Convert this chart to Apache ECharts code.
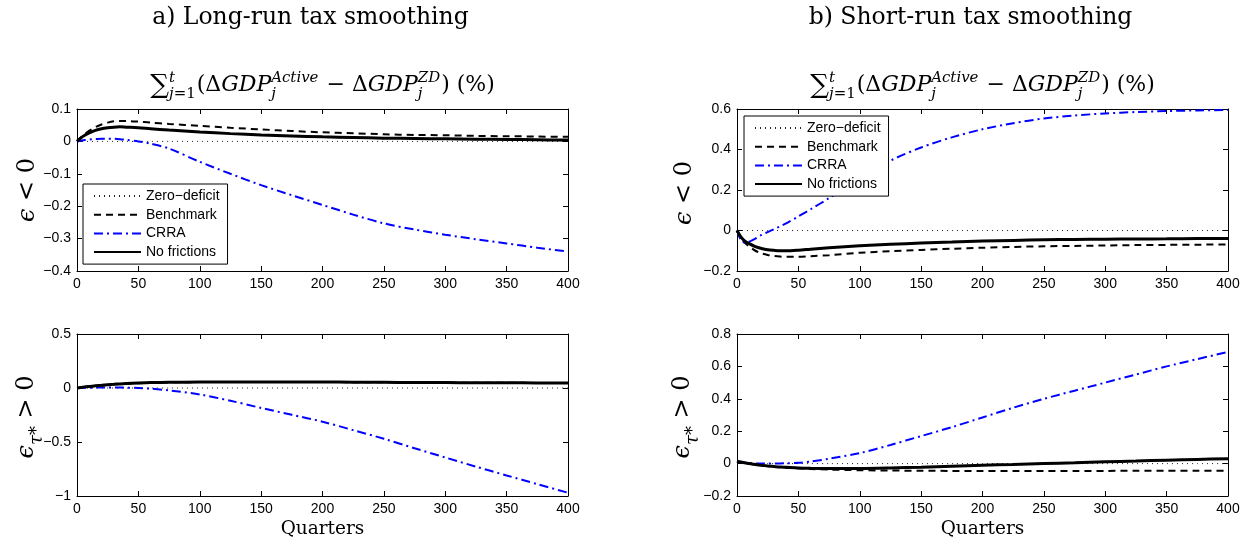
<!DOCTYPE html>
<html><head><meta charset="utf-8">
<script src="https://cdn.jsdelivr.net/npm/echarts@6/dist/echarts.min.js"></script>
<style>html,body{margin:0;padding:0;background:#fff}#c{width:1248px;height:542px}</style>
</head><body><div id="c"></div>
<script>
// ---------- DATA ----------
const quarters = [0, 3, 6, 10, 15, 20, 25, 30, 35, 40, 50, 60, 75, 100, 125, 150, 175, 200, 225, 250, 275, 300, 325, 350, 375, 400];
const seriesNames = ['Zero\u2212deficit', 'Benchmark', 'CRRA', 'No frictions'];

// a) Long-run tax smoothing, epsilon < 0
const zeroA1 = [0,0,0,0,0,0,0,0,0,0,0,0,0,0,0,0,0,0,0,0,0,0,0,0,0,0];
const benchA1 = [0, 0.012, 0.022, 0.033, 0.044, 0.052, 0.058, 0.062, 0.063, 0.063, 0.061, 0.058, 0.054, 0.048, 0.042, 0.037, 0.032, 0.028, 0.025, 0.022, 0.020, 0.019, 0.017, 0.016, 0.015, 0.014];
const crraA1 = [0, 0.002, 0.004, 0.006, 0.007, 0.008, 0.008, 0.008, 0.007, 0.005, 0.0, -0.007, -0.022, -0.063, -0.100, -0.135, -0.166, -0.196, -0.226, -0.253, -0.272, -0.288, -0.302, -0.315, -0.328, -0.340];
const nofrA1 = [0, 0.010, 0.018, 0.026, 0.034, 0.039, 0.042, 0.044, 0.045, 0.044, 0.042, 0.039, 0.035, 0.029, 0.024, 0.020, 0.017, 0.014, 0.012, 0.010, 0.009, 0.008, 0.007, 0.006, 0.005, 0.004];

// a) Long-run tax smoothing, epsilon_tau* > 0
const zeroA2 = [0,0,0,0,0,0,0,0,0,0,0,0,0,0,0,0,0,0,0,0,0,0,0,0,0,0];
const benchA2 = [0, 0.004, 0.008, 0.013, 0.019, 0.024, 0.029, 0.033, 0.037, 0.040, 0.045, 0.049, 0.052, 0.055, 0.056, 0.056, 0.056, 0.055, 0.054, 0.053, 0.052, 0.050, 0.049, 0.048, 0.047, 0.046];
const crraA2 = [0, 0.001, 0.002, 0.003, 0.004, 0.005, 0.005, 0.005, 0.004, 0.003, 0.0, -0.006, -0.022, -0.060, -0.118, -0.185, -0.248, -0.312, -0.390, -0.470, -0.558, -0.643, -0.728, -0.810, -0.890, -0.970];
const nofrA2 = [0, 0.004, 0.009, 0.014, 0.020, 0.025, 0.030, 0.034, 0.038, 0.041, 0.046, 0.050, 0.053, 0.055, 0.056, 0.056, 0.056, 0.055, 0.054, 0.053, 0.051, 0.050, 0.049, 0.048, 0.047, 0.046];

// b) Short-run tax smoothing, epsilon < 0
const zeroB1 = [0,0,0,0,0,0,0,0,0,0,0,0,0,0,0,0,0,0,0,0,0,0,0,0,0,0];
const benchB1 = [0, -0.035, -0.058, -0.080, -0.100, -0.113, -0.121, -0.126, -0.129, -0.130, -0.130, -0.127, -0.122, -0.110, -0.102, -0.096, -0.090, -0.085, -0.081, -0.078, -0.076, -0.074, -0.072, -0.071, -0.070, -0.069];
const crraB1 = [0, -0.045, -0.060, -0.055, -0.040, -0.022, -0.008, 0.006, 0.020, 0.035, 0.070, 0.105, 0.160, 0.260, 0.345, 0.410, 0.460, 0.500, 0.530, 0.553, 0.568, 0.578, 0.585, 0.590, 0.593, 0.595];
const nofrB1 = [0, -0.030, -0.050, -0.065, -0.080, -0.089, -0.095, -0.098, -0.100, -0.100, -0.097, -0.092, -0.085, -0.075, -0.068, -0.062, -0.057, -0.052, -0.049, -0.046, -0.044, -0.043, -0.042, -0.041, -0.040, -0.040];

// b) Short-run tax smoothing, epsilon_tau* > 0
const zeroB2 = [0,0,0,0,0,0,0,0,0,0,0,0,0,0,0,0,0,0,0,0,0,0,0,0,0,0];
const benchB2 = [0.015, 0.010, 0.005, 0.0, -0.006, -0.011, -0.015, -0.019, -0.022, -0.025, -0.029, -0.033, -0.037, -0.041, -0.043, -0.044, -0.045, -0.045, -0.045, -0.045, -0.045, -0.045, -0.044, -0.044, -0.044, -0.044];
const crraB2 = [0.012, 0.009, 0.006, 0.003, 0.001, 0.0, 0.0, 0.0, 0.001, 0.002, 0.005, 0.013, 0.030, 0.065, 0.115, 0.170, 0.225, 0.285, 0.345, 0.400, 0.450, 0.500, 0.550, 0.600, 0.645, 0.690];
const nofrB2 = [0.015, 0.010, 0.005, 0.0, -0.006, -0.011, -0.015, -0.018, -0.021, -0.023, -0.027, -0.029, -0.030, -0.030, -0.027, -0.022, -0.016, -0.010, -0.005, 0.0, 0.005, 0.011, 0.016, 0.021, 0.026, 0.030];

const yRanges = [
  {min: -0.4, max: 0.1, interval: 0.1},
  {min: -1, max: 0.5, interval: 0.5},
  {min: -0.2, max: 0.6, interval: 0.2},
  {min: -0.2, max: 0.8, interval: 0.2}
];
const panels = [
  [zeroA1, benchA1, crraA1, nofrA1],
  [zeroA2, benchA2, crraA2, nofrA2],
  [zeroB1, benchB1, crraB1, nofrB1],
  [zeroB2, benchB2, crraB2, nofrB2]
];

// ---------- LAYOUT ----------
const grids = [
  {left: 77, top: 109, width: 491, height: 162},
  {left: 77, top: 334, width: 491, height: 162},
  {left: 737, top: 109, width: 491, height: 162},
  {left: 737, top: 334, width: 491, height: 162}
];
const lineStyles = [
  {color: '#222', width: 1, type: [1, 4]},
  {color: '#000', width: 2, type: [7, 5]},
  {color: '#0000ff', width: 2, type: [9, 4, 2, 4]},
  {color: '#000', width: 3, type: 'solid'}
];
const tickFont = {fontFamily: '"Liberation Sans", Arial, sans-serif', fontSize: 14, color: '#000'};
const fmt = v => { const r = parseFloat(v.toFixed(3)); return String(r).replace('-', '\u2212'); };

const xAxis = [], yAxis = [], series = [];
grids.forEach((g, gi) => {
  xAxis.push({gridIndex: gi, type: 'value', min: 0, max: 400, interval: 50, position: 'bottom',
    axisLine: {onZero: false, lineStyle: {color: '#000', width: 1}},
    axisTick: {inside: true, length: 5, lineStyle: {color: '#000'}},
    axisLabel: Object.assign({margin: 6, formatter: fmt}, tickFont), splitLine: {show: false}});
  xAxis.push({gridIndex: gi, type: 'value', min: 0, max: 400, interval: 50, position: 'top',
    axisLine: {onZero: false, lineStyle: {color: '#000', width: 1}},
    axisTick: {inside: true, length: 5, lineStyle: {color: '#000'}},
    axisLabel: {show: false}, splitLine: {show: false}});
  const yr = yRanges[gi];
  yAxis.push({gridIndex: gi, type: 'value', min: yr.min, max: yr.max, interval: yr.interval, position: 'left',
    axisLine: {show: true, onZero: false, lineStyle: {color: '#000', width: 1}},
    axisTick: {show: true, inside: true, length: 5, lineStyle: {color: '#000'}},
    axisLabel: Object.assign({margin: 6, formatter: fmt}, tickFont), splitLine: {show: false}});
  yAxis.push({gridIndex: gi, type: 'value', min: yr.min, max: yr.max, interval: yr.interval, position: 'right',
    axisLine: {show: true, onZero: false, lineStyle: {color: '#000', width: 1}},
    axisTick: {show: true, inside: true, length: 5, lineStyle: {color: '#000'}},
    axisLabel: {show: false}, splitLine: {show: false}});
  panels[gi].forEach((arr, si) => {
    series.push({type: 'line', name: seriesNames[si], xAxisIndex: 2 * gi, yAxisIndex: 2 * gi,
      data: quarters.map((q, i) => [q, arr[i]]), symbol: 'none', smooth: 0.3,
      lineStyle: lineStyles[si], itemStyle: {color: lineStyles[si].color}, clip: true});
  });
});

const legendCommon = {orient: 'vertical', itemWidth: 47, itemHeight: 12, itemGap: 4.7,
  borderColor: '#000', borderWidth: 1, backgroundColor: '#fff', padding: [5, 8, 5, 10],
  itemStyle: {opacity: 0, borderWidth: 0},
  selectedMode: false, data: seriesNames, textStyle: {fontFamily: '"Liberation Sans", Arial, sans-serif', fontSize: 14, color: '#000'}};
const legend = [
  Object.assign({left: 83, top: 184}, legendCommon),
  Object.assign({left: 744, top: 116}, legendCommon)
];

// ---------- MATH TEXT (graphic) ----------
const SERIF = '"DejaVu Serif", serif';
const mctx = document.createElement('canvas').getContext('2d');
function tw(t, s, it) { mctx.font = (it ? 'italic ' : '') + s + 'px ' + SERIF; return mctx.measureText(t).width; }
function mk(t, x, base, s, it) {
  return {type: 'text', x: x, y: base - 0.346 * s, silent: true,
    style: {text: t, fontSize: s, fontFamily: SERIF, fontStyle: it ? 'italic' : 'normal', fill: '#000', align: 'left', verticalAlign: 'middle'}};
}
function buildMath(items, B) {
  let x = 0; const els = [];
  items.forEach(it => {
    if (it.stack) {
      const ss = 0.68 * B;
      let xs = x;
      it.sup.forEach(p => { els.push(mk(p.t, xs, -0.45 * B, ss, p.it)); xs += tw(p.t, ss, p.it); });
      const wsup = xs - x; xs = x;
      it.sub.forEach(p => { els.push(mk(p.t, xs, 0.3 * B, ss, p.it)); xs += tw(p.t, ss, p.it); });
      const wsub = xs - x;
      x += Math.max(wsup, wsub) + 1;
    } else {
      const s = (it.s || 1) * B;
      els.push(mk(it.t, x, (it.dy || 0) * B, s, it.it));
      x += tw(it.t, s, it.it);
    }
  });
  return {els, width: x};
}
const formulaItems = [
  {t: '\u2211', s: 1.2, dy: 0.1},
  {stack: true, sup: [{t: 't', it: true}], sub: [{t: 'j', it: true}, {t: '=1'}]},
  {t: '(\u0394'}, {t: 'GDP', it: true},
  {stack: true, sup: [{t: 'Active', it: true}], sub: [{t: 'j', it: true}]},
  {t: ' \u2212 \u0394'}, {t: 'GDP', it: true},
  {stack: true, sup: [{t: 'ZD', it: true}], sub: [{t: 'j', it: true}]},
  {t: ') (%)'}
];
const ylab1 = [{t: '\u03F5', it: true}, {t: ' < 0'}];
const ylab2 = [{t: '\u03F5', it: true}, {t: '\u03C4', it: true, s: 0.75, dy: 0.32}, {t: '*', s: 0.75, dy: 0.32}, {t: ' > 0'}];

const graphics = [];
function hMath(items, B, cx, base) {
  const m = buildMath(items, B);
  graphics.push({type: 'group', x: cx - m.width / 2, y: base, children: m.els});
}
function vMath(items, B, cx, cy) {
  const m = buildMath(items, B);
  m.els.forEach(e => { e.x -= m.width / 2; e.y += 0.35 * B; });
  graphics.push({type: 'group', x: cx, y: cy, rotation: Math.PI / 2, children: m.els});
}
function plainText(t, x, y, s) {
  graphics.push({type: 'text', x: x, y: y, silent: true,
    style: {text: t, fontSize: s, fontFamily: SERIF, fill: '#000', align: 'center', verticalAlign: 'middle'}});
}
const cxL = 77 + 491 / 2, cxR = 737 + 491 / 2;
plainText('a) Long-run tax smoothing', cxL - 12, 18, 23.5);
plainText('b) Short-run tax smoothing', cxR - 12, 18, 23.5);
hMath(formulaItems, 22, cxL, 93);
hMath(formulaItems, 22, cxR, 93);
vMath(ylab1, 24, 28, 190);
vMath(ylab2, 24, 27, 417);
vMath(ylab1, 24, 685, 193);
vMath(ylab2, 24, 683, 417);
plainText('Quarters', cxL, 529, 18.5);
plainText('Quarters', cxR, 529, 18.5);

const chart = echarts.init(document.getElementById('c'), null, {renderer: 'canvas'});
chart.setOption({
  animation: false, backgroundColor: '#fff',
  grid: grids.map(g => Object.assign({show: false}, g)),
  xAxis, yAxis, series, legend, graphic: graphics
});
</script></body></html>
